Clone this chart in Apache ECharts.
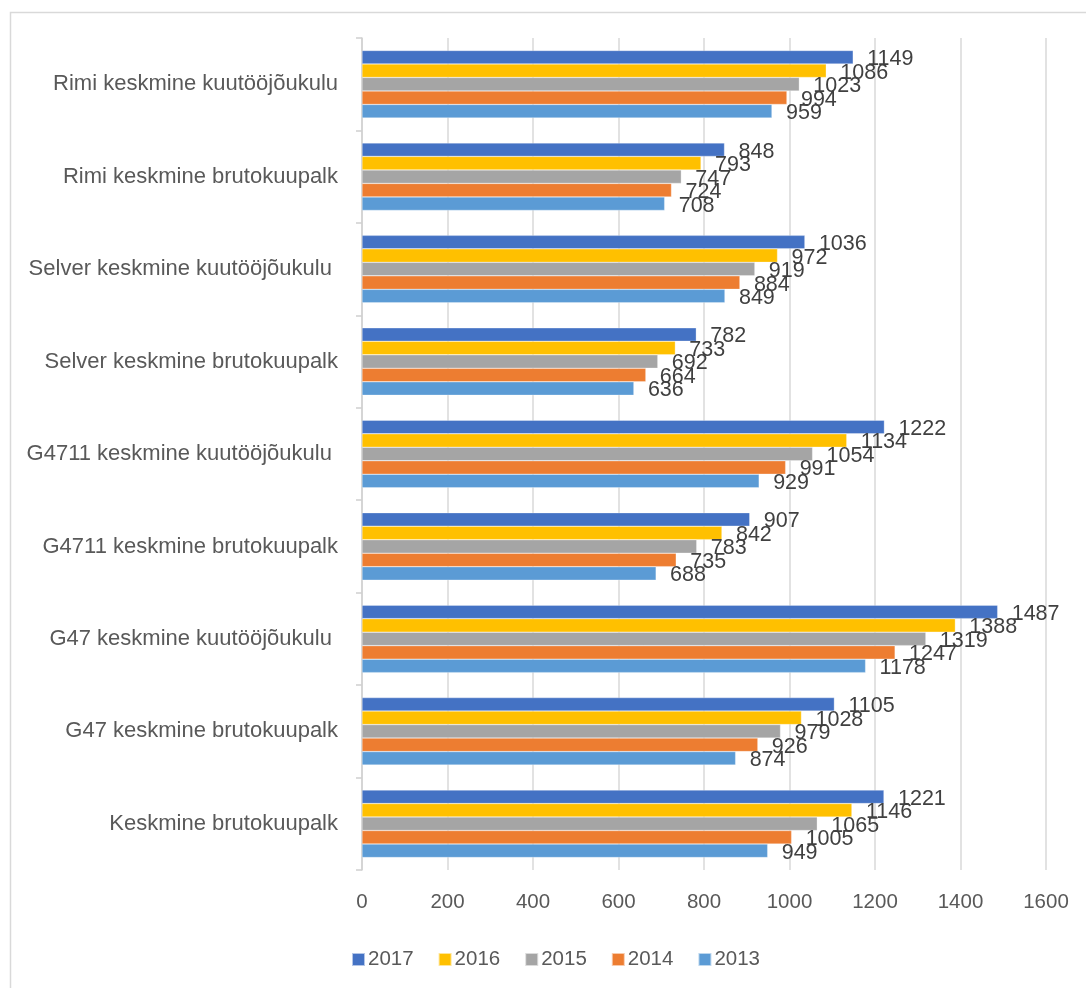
<!DOCTYPE html>
<html>
<head>
<meta charset="utf-8">
<script src="https://cdn.jsdelivr.net/npm/echarts@6/dist/echarts.min.js"></script>
<style>
html,body{margin:0;padding:0;background:#fff;}
#chart{width:1086px;height:988px;}
</style>
</head>
<body>
<div id="chart"></div>
<script>
const categories = [
  "Keskmine brutokuupalk",
  "G47 keskmine brutokuupalk",
  "G47 keskmine kuutööjõukulu ",
  "G4711 keskmine brutokuupalk",
  "G4711 keskmine kuutööjõukulu ",
  "Selver keskmine brutokuupalk",
  "Selver keskmine kuutööjõukulu ",
  "Rimi keskmine brutokuupalk",
  "Rimi keskmine kuutööjõukulu"
];
const years = ["2017", "2016", "2015", "2014", "2013"];
const v2013 = [949, 874, 1178, 688, 929, 636, 849, 708, 959];
const v2014 = [1005, 926, 1247, 735, 991, 664, 884, 724, 994];
const v2015 = [1065, 979, 1319, 783, 1054, 692, 919, 747, 1023];
const v2016 = [1146, 1028, 1388, 842, 1134, 733, 972, 793, 1086];
const v2017 = [1221, 1105, 1487, 907, 1222, 782, 1036, 848, 1149];
const xTicks = [0, 200, 400, 600, 800, 1000, 1200, 1400, 1600];

const colors = {"2013": "#5B9BD5", "2014": "#ED7D31", "2015": "#A5A5A5", "2016": "#FFC000", "2017": "#4472C4"};
const values = {"2013": v2013, "2014": v2014, "2015": v2015, "2016": v2016, "2017": v2017};
const FONT = '"Liberation Sans", Arial, sans-serif';

const chart = echarts.init(document.getElementById('chart'), null, {renderer: 'canvas'});
chart.setOption({
  animation: false,
  backgroundColor: '#fff',
  textStyle: {fontFamily: FONT},
  graphic: [{
    type: 'rect', left: 8, top: 10,
    shape: {x: 0, y: 0, width: 1200, height: 1100},
    style: {fill: 'none', stroke: '#d9d9d9', lineWidth: 1.5},
    silent: true
  }],
  grid: {left: 362, right: 40, top: 38, bottom: 118, containLabel: false},
  legend: {
    data: years,
    left: 346, top: 944,
    itemWidth: 13, itemHeight: 13, itemGap: 24,
    icon: 'rect',
    textStyle: {fontFamily: FONT, fontSize: 20.5, color: '#595959', padding: [0, 0, 0, -2]}
  },
  xAxis: {
    type: 'value', min: 0, max: 1600, interval: 200,
    axisLine: {show: false}, axisTick: {show: false},
    axisLabel: {fontFamily: FONT, fontSize: 20.5, color: '#595959', margin: 22,
      formatter: v => xTicks.includes(v) ? String(v) : ''},
    splitLine: {show: true, lineStyle: {color: '#d9d9d9', width: 1.5}}
  },
  yAxis: {
    type: 'category', data: categories,
    axisLine: {show: true, lineStyle: {color: '#d0d0d0', width: 1.5}},
    axisTick: {show: true, length: 6, lineStyle: {color: '#d0d0d0', width: 1.5}},
    axisLabel: {fontFamily: FONT, fontSize: 22, color: '#595959', margin: 24}
  },
  series: years.map(y => ({
    name: y, type: 'bar', data: values[y],
    barGap: '0%', barCategoryGap: '27%',
    itemStyle: {color: colors[y], borderColor: 'rgba(255,255,255,0.6)', borderWidth: 0.5},
    label: {show: true, position: 'right', distance: 14, offset: [0, 2],
      fontFamily: FONT, fontSize: 21.5, color: '#404040'}
  }))
});
</script>
</body>
</html>
